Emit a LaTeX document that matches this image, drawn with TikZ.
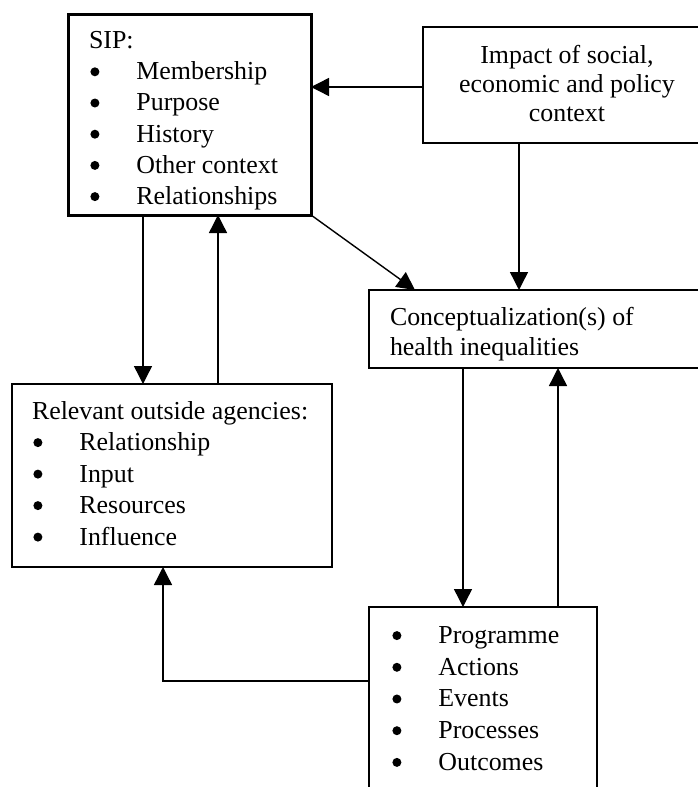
\documentclass[tikz,border=0pt]{standalone}
\usepackage{fontspec}
\setmainfont{Liberation Serif}
\usetikzlibrary{arrows.meta}
\newcommand{\myfs}[1]{\fontsize{25.9}{#1}\selectfont}
\newcommand{\dotb}{\hspace{1.4pt}\tikz[baseline=0pt]\fill (4.5pt,7.9pt) circle[radius=4.5pt];}
\newcommand{\bitem}[1]{\strut\makebox[47.4pt][l]{\dotb}#1}
\begin{document}
\begin{tikzpicture}[x=1pt,y=-1pt,
  box/.style={draw, line width=1.4pt, rectangle, inner sep=0pt, outer sep=0pt, anchor=north west},
  txt/.style={inner sep=0pt, outer sep=0pt, anchor=north west, align=left},
  arr/.style={line width=1.4pt, -{Triangle[length=18pt,width=18pt]}}]
\useasboundingbox (0,0) rectangle (698,787);
\clip (0,0) rectangle (698,787);
% boxes
\node[box, line width=3pt, minimum width=243pt, minimum height=201pt] (sip) at (68,14) {};
\node[box, minimum width=300pt, minimum height=116pt] (impact) at (423,27) {};
\node[box, minimum width=340pt, minimum height=78pt] (concept) at (369,290) {};
\node[box, minimum width=320pt, minimum height=183pt] (agencies) at (12,384) {};
\node[box, minimum width=228pt, minimum height=200pt] (prog) at (369,607) {};
% texts
\node[txt, font=\myfs{31.2}] (siptxt) at (89,26.66) {\strut SIP:\\\bitem{Membership}\\\bitem{Purpose}\\\bitem{History}\\\bitem{Other context}\\\bitem{Relationships}};
\node[txt, font=\myfs{29.3}, anchor=north, align=center] (impacttxt) at (567,42.8) {\strut Impact of social,\\\strut economic and policy\\\strut context};
\node[txt, font=\myfs{30}] (concepttxt) at (390,304) {\strut Conceptualization(s) of\\\strut health inequalities};
\node[txt, font=\myfs{31.5}] (agtxt) at (32,396.95) {\strut Relevant outside agencies:\\\bitem{Relationship}\\\bitem{Input}\\\bitem{Resources}\\\bitem{Influence}};
\node[txt, font=\myfs{31.7}] (progtxt) at (391,621.3) {\bitem{Programme}\\\bitem{Actions}\\\bitem{Events}\\\bitem{Processes}\\\bitem{Outcomes}};
% connectors
\draw[arr] ([yshift=-2pt]impact.west) -- ([yshift=-2pt]impact.west -| sip.east);
\coordinate (i1) at ([xshift=96pt]impact.south west);
\draw[arr] (i1) -- (i1 |- concept.north);
\draw[arr] (sip.south east) -- ([xshift=46pt]concept.north west);
\coordinate (s1) at ([xshift=75pt]sip.south west);
\draw[arr] (s1) -- (s1 |- agencies.north);
\coordinate (a1) at ([xshift=206pt]agencies.north west);
\draw[arr] (a1) -- (a1 |- sip.south);
\coordinate (c1) at ([xshift=94pt]concept.south west);
\draw[arr] (c1) -- (c1 |- prog.north);
\coordinate (p1) at ([xshift=189pt]prog.north west);
\draw[arr] (p1) -- (p1 |- concept.south);
\coordinate (p2) at ([yshift=-74pt]prog.north west);
\coordinate (e1) at ([xshift=151pt]agencies.south west);
\draw[arr] (p2) -- (p2 -| e1) -- (e1);
\end{tikzpicture}
\end{document}
